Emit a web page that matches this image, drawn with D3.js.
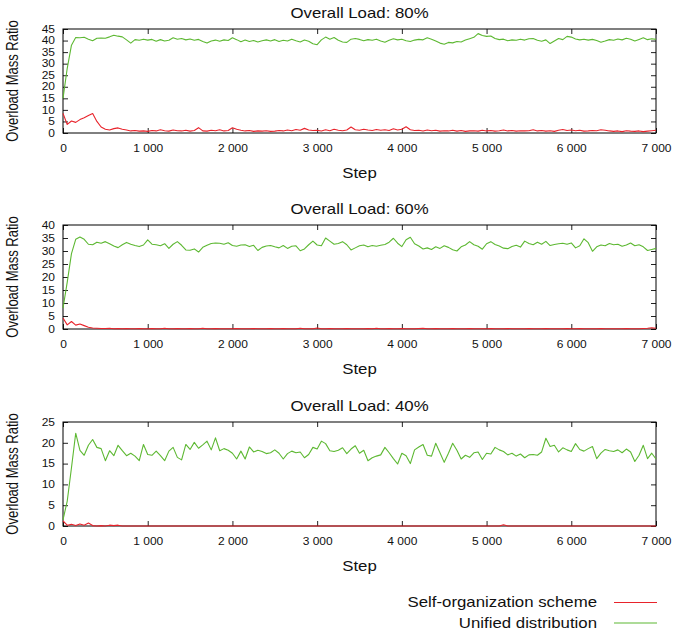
<!DOCTYPE html>
<html>
<head>
<meta charset="utf-8">
<script src="https://cdn.jsdelivr.net/npm/d3@7"></script>
<style>
  body { margin: 0; background: #fff; }
  text { font-family: "Liberation Sans", Arial, sans-serif; fill: #111; }
</style>
</head>
<body>
<div id="chart"></div>
<script>
// step axis (every 50 steps)
let steps = [
    0, 50, 100, 150, 200, 250, 300, 350, 400, 450,
    500, 550, 600, 650, 700, 750, 800, 850, 900, 950,
    1000, 1050, 1100, 1150, 1200, 1250, 1300, 1350, 1400, 1450,
    1500, 1550, 1600, 1650, 1700, 1750, 1800, 1850, 1900, 1950,
    2000, 2050, 2100, 2150, 2200, 2250, 2300, 2350, 2400, 2450,
    2500, 2550, 2600, 2650, 2700, 2750, 2800, 2850, 2900, 2950,
    3000, 3050, 3100, 3150, 3200, 3250, 3300, 3350, 3400, 3450,
    3500, 3550, 3600, 3650, 3700, 3750, 3800, 3850, 3900, 3950,
    4000, 4050, 4100, 4150, 4200, 4250, 4300, 4350, 4400, 4450,
    4500, 4550, 4600, 4650, 4700, 4750, 4800, 4850, 4900, 4950,
    5000, 5050, 5100, 5150, 5200, 5250, 5300, 5350, 5400, 5450,
    5500, 5550, 5600, 5650, 5700, 5750, 5800, 5850, 5900, 5950,
    6000, 6050, 6100, 6150, 6200, 6250, 6300, 6350, 6400, 6450,
    6500, 6550, 6600, 6650, 6700, 6750, 6800, 6850, 6900, 6950,
    7000
];

// Overall load 80%
let selfOrg80 = [
    8.5, 3.7, 5.2, 4.6, 5.8, 6.6, 7.6, 8.4, 5.0, 2.6,
    1.6, 1.3, 1.9, 2.2, 1.6, 1.3, 0.9, 1.1, 0.8, 0.9,
    0.7, 1.1, 0.9, 1.4, 1.0, 0.8, 1.3, 1.0, 0.9, 1.2,
    0.8, 1.1, 2.3, 0.9, 0.8, 1.2, 1.0, 1.4, 0.9, 1.1,
    2.3, 1.6, 1.2, 0.9, 1.1, 0.7, 0.9, 0.8, 1.0, 0.7,
    0.8, 1.1, 0.9, 1.3, 1.0, 1.5, 1.2, 2.0, 1.3, 1.1,
    1.2, 0.9, 1.4, 1.0, 1.6, 1.2, 1.0, 1.3, 2.6, 1.4,
    1.2, 1.6, 1.3, 1.1, 1.5, 1.2, 1.4, 1.1, 1.8, 1.3,
    1.6, 2.7, 1.4, 1.1, 1.2, 0.9, 1.3, 1.0, 1.2, 0.8,
    1.0, 0.9, 1.2, 0.8, 1.1, 0.7, 0.9, 1.0, 0.8, 1.2,
    0.9, 1.1, 0.8, 1.0, 1.3, 0.9, 1.1, 0.8, 1.0, 0.9,
    1.0, 1.4, 0.9, 1.1, 0.8, 1.0, 0.7, 1.2, 1.5, 1.1,
    1.3, 1.0, 1.2, 0.8, 0.9, 1.1, 1.0, 1.4, 1.2, 0.9,
    0.7, 0.9, 0.6, 1.0, 0.8, 0.7, 0.9, 0.6, 0.8, 1.0,
    1.2
];
let unified80 = [
    15, 28, 38, 41.3, 41.2, 41.4, 40.6, 39.9, 41, 41.1,
    41, 41.6, 42.3, 41.9, 41.6, 40.3, 38.9, 40.4, 40.1, 40.6,
    40.2, 40.5, 39.7, 40.4, 39.8, 40.1, 41.2, 40.6, 40.9, 40.3,
    40.7, 40.1, 40.5, 39.6, 38.9, 39.8, 40.2, 39.7, 40.3, 40,
    41.2, 40.4, 39.5, 40.2, 39.6, 40, 39.4, 39.9, 40.3, 39.8,
    40.4, 39.6, 40.1, 39.8, 40.6, 39.9, 39.4, 40.2, 39.7, 38.6,
    38.2, 40.3, 41.5, 40.6, 41.3, 40.1, 39.4, 39.2, 40.6, 40.9,
    40.5, 39.9, 40.4, 40.1, 40.6, 39.8, 39.3, 40.1, 40.8, 40.3,
    40.6, 39.9, 39.6, 40.2, 40.5, 40.3, 41.2, 40.6, 39.8, 38.9,
    38.4, 39.2, 39.0, 39.6, 39.4, 40.2, 40.8, 41.4, 43.0, 42.2,
    41.8, 42.0, 40.9, 40.4, 40.6, 39.9, 40.3, 40.1, 40.6, 40.2,
    40.8, 40.9, 40.1, 39.7, 40.3, 38.7, 39.8, 40.9, 40.4, 41.8,
    41.5, 40.7, 40.3, 40.6, 40.2, 40.5, 40.0, 39.3, 39.8, 40.4,
    40.1, 40.7, 40.3, 41.0, 40.6, 39.8, 40.5, 41.2, 40.4, 40.8,
    40.5
];

// Overall load 60%
let selfOrg60 = [
    4.2, 1.6, 2.9, 1.5, 1.9, 1.3, 0.7, 0.4, 0.3, 0.2,
    0.2, 0.3, 0.1, 0.2, 0.1, 0.2, 0.1, 0.1, 0.2, 0.1,
    0.1, 0.2, 0.1, 0.1, 0.3, 0.1, 0.1, 0.2, 0.1, 0.1,
    0.2, 0.1, 0.1, 0.3, 0.1, 0.1, 0.2, 0.1, 0.1, 0.1,
    0.1, 0.2, 0.1, 0.1, 0.1, 0.2, 0.1, 0.1, 0.1, 0.2,
    0.1, 0.1, 0.2, 0.1, 0.1, 0.1, 0.3, 0.1, 0.1, 0.1,
    0.4, 0.1, 0.1, 0.2, 0.1, 0.1, 0.1, 0.2, 0.1, 0.1,
    0.1, 0.1, 0.2, 0.1, 0.3, 0.1, 0.1, 0.2, 0.1, 0.1,
    0.2, 0.1, 0.1, 0.1, 0.2, 0.3, 0.1, 0.1, 0.2, 0.1,
    0.1, 0.1, 0.2, 0.1, 0.1, 0.1, 0.2, 0.1, 0.1, 0.1,
    0.1, 0.2, 0.1, 0.1, 0.1, 0.2, 0.1, 0.1, 0.1, 0.1,
    0.2, 0.1, 0.1, 0.1, 0.2, 0.1, 0.1, 0.1, 0.1, 0.2,
    0.1, 0.1, 0.2, 0.1, 0.1, 0.1, 0.1, 0.2, 0.1, 0.1,
    0.1, 0.1, 0.1, 0.2, 0.1, 0.1, 0.1, 0.2, 0.3, 0.5,
    0.3
];
let unified60 = [
    8, 18, 29, 34.5, 35.4, 34.5, 32.6, 32.4, 33.4, 33.0,
    33.6, 32.8, 31.9, 31.3, 32.4, 33.3, 32.6, 32.1, 31.7, 32.3,
    34.3, 32.6, 32.4, 32.0, 32.8, 31.0, 32.6, 33.6, 32.2, 30.4,
    30.3, 30.8, 29.6, 31.4, 32.2, 32.9, 33.1, 33.0, 32.6, 33.2,
    32.1, 31.8, 32.3, 32.4, 31.7, 32.2, 30.2, 31.4, 31.9, 32.1,
    31.6, 31.2, 32.1, 31.0, 31.8, 32.0, 30.1, 30.8, 32.4, 33.8,
    32.3, 32.0, 35.0, 33.8, 32.6, 32.9, 33.6, 32.4, 30.4, 31.2,
    32.0, 32.3, 31.6, 32.1, 31.8, 32.2, 32.5, 33.4, 34.9, 33.0,
    31.7, 34.3, 35.3, 32.8, 31.9, 30.8, 31.2, 30.6, 31.6, 31.0,
    32.0, 31.4, 30.5, 30.0, 31.6, 32.3, 33.6, 32.4, 31.8, 30.7,
    32.8, 33.6, 32.5, 31.9, 31.1, 30.9, 31.7, 32.2, 31.5, 33.8,
    32.9, 32.4, 33.4, 32.6, 33.7, 32.1, 32.5, 32.8, 33.0, 32.6,
    33.1, 31.2, 32.0, 34.7, 33.2, 29.9, 31.6, 32.3, 32.0, 32.9,
    32.4, 32.6, 31.8, 32.3, 33.1, 32.0, 32.4, 31.6, 30.2, 30.6,
    31.0
];

// Overall load 40%
let selfOrg40 = [
    1.2, 0.2, 0.4, 0.1, 0.5, 0.2, 0.7, 0.1, 0, 0.1,
    0, 0.2, 0.1, 0.2, 0, 0, 0, 0, 0, 0,
    0, 0, 0, 0, 0, 0, 0, 0, 0, 0,
    0, 0, 0, 0, 0, 0, 0, 0, 0, 0,
    0, 0, 0, 0, 0, 0, 0, 0, 0, 0,
    0, 0, 0, 0, 0, 0, 0, 0, 0, 0,
    0, 0, 0, 0, 0, 0, 0, 0, 0, 0,
    0, 0, 0, 0, 0, 0, 0, 0, 0, 0,
    0, 0, 0, 0, 0, 0, 0, 0, 0, 0,
    0, 0, 0, 0, 0, 0, 0, 0, 0, 0,
    0, 0, 0, 0, 0.3, 0, 0, 0, 0, 0,
    0, 0, 0, 0, 0, 0, 0, 0, 0, 0,
    0, 0, 0, 0, 0, 0, 0, 0, 0, 0,
    0, 0, 0, 0, 0, 0, 0, 0, 0, 0,
    0
];
let unified40 = [
    1.5, 6.0, 14.0, 22.3, 18.2, 17.0, 19.4, 20.8, 18.9, 18.6,
    15.7, 18.1, 16.9, 19.4, 18.1, 16.9, 17.5, 16.8, 15.7, 19.6,
    17.2, 17.0, 18.0, 16.9, 15.7, 18.0, 18.9, 16.5, 15.9, 19.6,
    18.4, 20.1, 18.7, 19.5, 20.4, 18.3, 21.2, 18.1, 18.6, 18.2,
    17.5, 16.1, 18.0, 16.1, 19.0, 17.8, 18.2, 17.9, 17.4, 17.6,
    18.3, 17.5, 16.1, 17.4, 18.0, 17.6, 17.8, 16.4, 17.2, 18.9,
    18.5, 20.4, 19.8, 18.1, 17.9, 18.2, 18.8, 17.4, 18.5, 19.3,
    17.5, 18.2, 15.7, 16.4, 16.8, 17.1, 18.9, 17.6, 16.2, 14.9,
    17.5, 16.9, 15.0, 18.3, 19.0, 19.6, 17.0, 16.8, 19.9, 17.6,
    15.3, 17.5, 19.9, 18.2, 16.1, 17.0, 16.5, 17.6, 17.8, 16.0,
    17.5, 17.3, 18.9, 18.3, 17.9, 17.1, 17.5, 16.8, 17.3, 16.4,
    17.1, 17.2, 17.0, 17.8, 21.1, 19.1, 19.4, 17.8, 18.8, 18.3,
    17.9, 19.8, 18.4, 18.0, 18.6, 19.1, 16.2, 17.5, 18.4, 18.1,
    17.9, 18.3, 17.6, 18.5, 17.8, 15.5, 17.0, 19.4, 16.2, 17.5,
    16.1
];

let titles = ["Overall Load: 80%", "Overall Load: 60%", "Overall Load: 40%"];
let yMaxes = [45, 40, 25];
let xTicks = [0, 1000, 2000, 3000, 4000, 5000, 6000, 7000];
let seriesNames = ["Self-organization scheme", "Unified distribution"];
let panelData = [
    [selfOrg80, unified80],
    [selfOrg60, unified60],
    [selfOrg40, unified40]
];

let svgWidth = 673;
let svgHeight = 633;
let colors = ["#e8232b", "#5db832"];
let stretch = "scale(1.2,1)";   // the picture text is a bit wide
let panelTops = [29, 225, 422];
let plotLeft = 63, plotRight = 656, plotHeight = 104;

let svg = d3.select("#chart")
    .append("svg")
    .attr("width", svgWidth)
    .attr("height", svgHeight);

let locale = d3.formatLocale({decimal: ".", thousands: " ", grouping: [3], currency: ["", ""]});
let fmt = locale.format(",d");

let xScale = d3.scaleLinear().domain([0, 7000]).range([plotLeft, plotRight]);

panelData.forEach(function(pair, p) {
    let top = panelTops[p];
    let bottom = top + plotHeight;
    let yScale = d3.scaleLinear().domain([0, yMaxes[p]]).range([bottom, top]);
    let g = svg.append("g");

    let xaxis = g.append("g")
        .attr("transform", `translate(0, ${bottom})`)
        .call(d3.axisBottom(xScale).tickValues(xTicks).tickFormat(fmt)
            .tickSizeInner(-5).tickSizeOuter(0).tickPadding(11.5));
    xaxis.selectAll("text").attr("transform", stretch).style("font-size", "10px");

    g.append("g")
        .attr("transform", `translate(0, ${top})`)
        .call(d3.axisTop(xScale).tickValues(xTicks).tickFormat("")
            .tickSizeInner(-5).tickSizeOuter(0));

    let yaxis = g.append("g")
        .attr("transform", `translate(${plotLeft}, 0)`)
        .call(d3.axisLeft(yScale).ticks(yMaxes[p] / 5)
            .tickSizeInner(-5).tickSizeOuter(0).tickPadding(6.7));
    yaxis.selectAll("text").attr("transform", stretch).style("font-size", "10px");

    g.append("g")
        .attr("transform", `translate(${plotRight}, 0)`)
        .call(d3.axisRight(yScale).ticks(yMaxes[p] / 5).tickFormat("")
            .tickSizeInner(-5).tickSizeOuter(0));

    g.selectAll(".domain").remove();
    g.selectAll(".tick line").attr("stroke", "#222");

    g.append("rect")
        .attr("x", plotLeft)
        .attr("y", top)
        .attr("width", plotRight - plotLeft)
        .attr("height", plotHeight)
        .attr("fill", "none")
        .attr("stroke", "#000");

    pair.forEach(function(vals, s) {
        let line = d3.line()
            .x((d, i) => xScale(steps[i]))
            .y(d => yScale(d));
        g.append("path")
            .datum(vals.slice(0, steps.length))
            .attr("d", line)
            .attr("fill", "none")
            .attr("stroke", colors[s])
            .attr("stroke-width", 1.1)
            .attr("stroke-linejoin", "round");
    });

    g.append("text")
        .attr("transform", `translate(${(plotLeft + plotRight) / 2}, ${top - 10.7}) ${stretch}`)
        .attr("text-anchor", "middle")
        .style("font-size", "14px")
        .text(titles[p]);

    g.append("text")
        .attr("transform", `translate(${(plotLeft + plotRight) / 2}, ${bottom + 44.5}) ${stretch}`)
        .attr("text-anchor", "middle")
        .style("font-size", "14px")
        .text("Step");

    g.append("text")
        .attr("transform", `translate(18.3, ${(top + bottom) / 2}) ${stretch} rotate(-90)`)
        .attr("text-anchor", "middle")
        .style("font-size", "13px")
        .text("Overload Mass Ratio");
});

// legend
let legend = svg.append("g");
let legendY = [602.5, 623];
seriesNames.forEach(function(name, i) {
    legend.append("text")
        .attr("transform", `translate(597, ${legendY[i] + 4.5}) ${stretch}`)
        .attr("text-anchor", "end")
        .style("font-size", "14px")
        .text(name);
    legend.append("line")
        .attr("x1", 614).attr("x2", 657)
        .attr("y1", legendY[i]).attr("y2", legendY[i])
        .attr("stroke", colors[i])
        .attr("stroke-width", 1.1);
});
</script>
</body>
</html>
